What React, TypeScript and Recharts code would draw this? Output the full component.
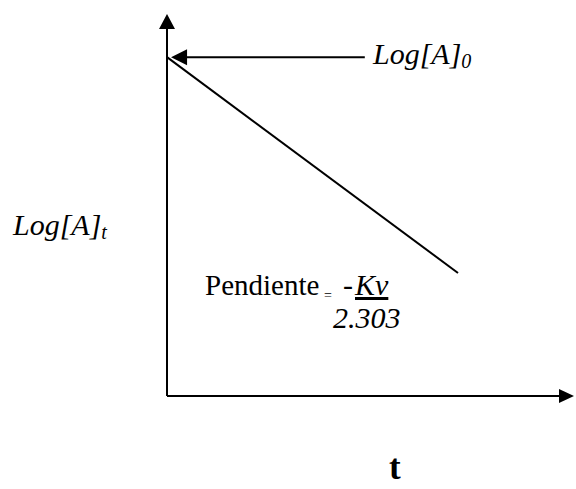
import React from 'react';
import {
  ComposedChart,
  Line,
  XAxis,
  YAxis,
  ReferenceLine,
  ReferenceDot,
  Customized,
} from 'recharts';

// tiempo (t) y Log[A] de la recta
const tValues = [0, 7.15];
const logAValues = [8.87, 3.22];

// ejes y flecha de Log[A]0
const axisMax = 10;
const logA0 = 8.87;
const arrowStartT = 4.86;

const data = tValues.map((t, i) => ({ t, logA: logAValues[i] }));

const font = '"Liberation Serif", "Times New Roman", serif';

const ArrowRight = (props: any) => {
  const { cx, cy } = props;
  return <polygon points={`${cx},${cy} ${cx - 15},${cy - 7} ${cx - 15},${cy + 7}`} fill="#000" />;
};

const ArrowUp = (props: any) => {
  const { cx, cy } = props;
  return <polygon points={`${cx},${cy} ${cx - 8},${cy + 15} ${cx + 8},${cy + 15}`} fill="#000" />;
};

const ArrowLeft = (props: any) => {
  const { cx, cy } = props;
  return <polygon points={`${cx},${cy} ${cx + 16},${cy - 8} ${cx + 16},${cy + 8}`} fill="#000" />;
};

const Texts = () => (
  <g fontFamily={font} fill="#000">
    <text x={373} y={64} fontSize={30} fontStyle="italic">
      Log[A]<tspan fontSize={20} dy={4}>0</tspan>
    </text>
    <text x={13} y={235} fontSize={30} fontStyle="italic">
      Log[A]<tspan fontSize={20} dy={4}>t</tspan>
    </text>
    <text x={205} y={295} fontSize={29}>Pendiente</text>
    <text x={324} y={300} fontSize={14}>=</text>
    <text x={343} y={295} fontSize={30} fontStyle="italic">-</text>
    <text x={355} y={295} fontSize={30} fontStyle="italic" textDecoration="underline">Kv</text>
    <text x={333} y={328} fontSize={30} fontStyle="italic">2.303</text>
    <text x={389} y={479} fontSize={35} fontWeight="bold">t</text>
  </g>
);

export default function App() {
  return (
    <div style={{ position: 'absolute', left: 0, top: 0, width: 576, height: 489, background: '#fff' }}>
      <ComposedChart
        width={576}
        height={489}
        data={data}
        margin={{ top: 14, right: 2, bottom: 93, left: 167 }}
      >
        <XAxis dataKey="t" type="number" domain={[0, axisMax]} hide />
        <YAxis type="number" domain={[0, axisMax]} hide />
        <ReferenceLine
          segment={[{ x: 0, y: 0 }, { x: axisMax - 0.2, y: 0 }]}
          stroke="#000"
          strokeWidth={2}
          ifOverflow="visible"
        />
        <ReferenceLine
          segment={[{ x: 0, y: 0 }, { x: 0, y: axisMax - 0.2 }]}
          stroke="#000"
          strokeWidth={2}
          ifOverflow="visible"
        />
        <ReferenceLine
          segment={[{ x: 0.3, y: logA0 }, { x: arrowStartT, y: logA0 }]}
          stroke="#000"
          strokeWidth={2}
          ifOverflow="visible"
        />
        <ReferenceDot x={axisMax} y={0} ifOverflow="visible" shape={ArrowRight} />
        <ReferenceDot x={0} y={axisMax} ifOverflow="visible" shape={ArrowUp} />
        <ReferenceDot x={0.1} y={logA0} ifOverflow="visible" shape={ArrowLeft} />
        <Line
          dataKey="logA"
          stroke="#000"
          strokeWidth={2}
          dot={false}
          isAnimationActive={false}
        />
        <Customized component={Texts} />
      </ComposedChart>
    </div>
  );
}
